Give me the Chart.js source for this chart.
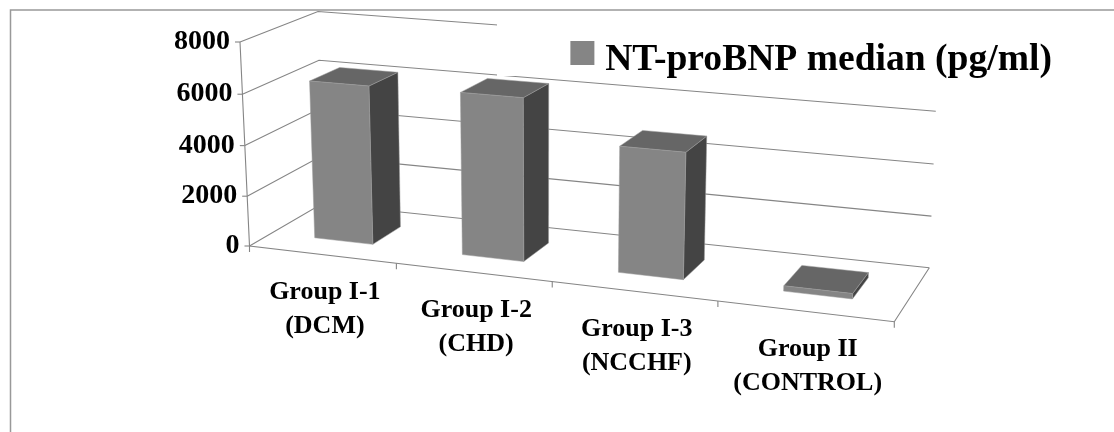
<!DOCTYPE html>
<html>
<head>
<meta charset="utf-8">
<title>NT-proBNP median</title>
<script src="https://cdn.jsdelivr.net/npm/chart.js@4"></script>
<style>
    html, body { margin: 0; padding: 0; background: #fff; }
    canvas { display: block; }
</style>
</head>
<body>
<canvas id="grafico" width="1114" height="432"></canvas>
<script>
// Datos
const categories = [
    ['Group I-1', '(DCM)'],
    ['Group I-2', '(CHD)'],
    ['Group I-3', '(NCCHF)'],
    ['Group II', '(CONTROL)']
];
const seriesName = 'NT-proBNP median (pg/ml)';
const medians = [6250, 6300, 4800, 200];
const axisMax = 8000;
const axisStep = 2000;

// Colores
const FRONT = '#858585';
const TOP = '#666666';
const SIDE = '#444444';
const GRID = '#858585';
const FONT = '"Liberation Serif", "Times New Roman", serif';

// Paso de un cuadrado unidad a un cuadrilátero (perspectiva)
const squareToQuad = ([x0, y0], [x1, y1], [x2, y2], [x3, y3]) => {
    const sx = x0 - x1 + x2 - x3, sy = y0 - y1 + y2 - y3;
    const dx1 = x1 - x2, dx2 = x3 - x2, dy1 = y1 - y2, dy2 = y3 - y2;
    const den = dx1 * dy2 - dx2 * dy1;
    const g = (sx * dy2 - dx2 * sy) / den;
    const h = (dx1 * sy - sx * dy1) / den;
    const a = x1 - x0 + g * x1, b = x3 - x0 + h * x3;
    const d = y1 - y0 + g * y1, e = y3 - y0 + h * y3;
    return (u, v) => {
        const w = g * u + h * v + 1;
        return [(a * u + b * v + x0) / w, (d * u + e * v + y0) / w];
    };
};

// Plano frontal y plano del fondo de la caja 3D
const frontPlane = squareToQuad([240, 42], [907, 93], [894.3, 321.7], [249.5, 246]);
const backPlane = squareToQuad([318, 11.5], [938, 58], [929.3, 267.7], [322, 203.7]);

// u: horizontal, v: vertical, t: profundidad (todos de 0 a 1)
const project = (u, v, t) => {
    const f = frontPlane(u, v), b = backPlane(u, v);
    return [f[0] + (b[0] - f[0]) * t, f[1] + (b[1] - f[1]) * t];
};

const BAR_FRONT = 0.31;
const BAR_BACK = 0.71;

const toU = (chart, px) => (px - chart.chartArea.left) / chart.chartArea.width;
const toV = (chart, py) => (py - chart.chartArea.top) / chart.chartArea.height;

const strokePath = (ctx, points) => {
    ctx.beginPath();
    points.forEach((p, i) => i ? ctx.lineTo(p[0], p[1]) : ctx.moveTo(p[0], p[1]));
    ctx.stroke();
};

const fillFace = (ctx, points, color) => {
    ctx.beginPath();
    points.forEach((p, i) => i ? ctx.lineTo(p[0], p[1]) : ctx.moveTo(p[0], p[1]));
    ctx.closePath();
    ctx.fillStyle = color;
    ctx.fill();
    ctx.strokeStyle = '#9a9a9a';
    ctx.lineWidth = 0.5;
    ctx.stroke();
};

const box3d = {
    id: 'box3d',
    // Marco, paredes y rejilla, debajo de la leyenda
    beforeDraw(chart) {
        const { ctx, scales: { y } } = chart;
        ctx.save();
        ctx.fillStyle = '#fff';
        ctx.fillRect(0, 0, chart.width, chart.height);

        ctx.strokeStyle = '#999999';
        ctx.lineWidth = 1.5;
        strokePath(ctx, [[10.5, chart.height], [10.5, 10], [chart.width, 10]]);

        ctx.strokeStyle = GRID;
        ctx.lineWidth = 1.1;
        y.ticks.forEach(tick => {
            const v = toV(chart, y.getPixelForValue(tick.value));
            strokePath(ctx, [project(0, v, 0), project(0, v, 1), project(1, v, 1)]);
            const p = project(0, v, 0);
            strokePath(ctx, [[p[0] - 5, p[1]], p]);
        });
        strokePath(ctx, [project(0, 0, 0), project(0, 1, 0), project(1, 1, 0), project(1, 1, 1)]);
        for (let i = 0; i <= categories.length; i++) {
            const p = project(i / categories.length, 1, 0);
            strokePath(ctx, [p, [p[0], p[1] + 6]]);
        }

        // La leyenda tapa la rejilla que queda detrás
        ctx.fillStyle = '#fff';
        ctx.fillRect(497, 11, chart.width - 497, 65);
        ctx.restore();
    },
    // Cuadro de la leyenda, barras y textos de los ejes
    beforeDatasetsDraw(chart) {
        const { ctx, scales: { x, y } } = chart;
        ctx.save();
        ctx.fillStyle = FRONT;
        ctx.fillRect(chart.legend.legendHitBoxes[0].left, 41, 24, 24);

        chart.getDatasetMeta(0).data.forEach(bar => {
            const u0 = toU(chart, bar.x - bar.width / 2);
            const u1 = toU(chart, bar.x + bar.width / 2);
            const vTop = toV(chart, bar.y);
            const vBase = toV(chart, bar.base);
            fillFace(ctx, [project(u1, vTop, BAR_FRONT), project(u1, vTop, BAR_BACK), project(u1, vBase, BAR_BACK), project(u1, vBase, BAR_FRONT)], SIDE);
            fillFace(ctx, [project(u0, vTop, BAR_FRONT), project(u0, vTop, BAR_BACK), project(u1, vTop, BAR_BACK), project(u1, vTop, BAR_FRONT)], TOP);
            fillFace(ctx, [project(u0, vTop, BAR_FRONT), project(u1, vTop, BAR_FRONT), project(u1, vBase, BAR_FRONT), project(u0, vBase, BAR_FRONT)], FRONT);
        });

        ctx.fillStyle = '#000';
        ctx.textBaseline = 'middle';

        ctx.font = 'bold 28px ' + FONT;
        ctx.textAlign = 'right';
        y.ticks.forEach(tick => {
            const p = project(0, toV(chart, y.getPixelForValue(tick.value)), 0);
            ctx.fillText(String(tick.value), p[0] - 10, p[1]);
        });

        ctx.font = 'bold 26px ' + FONT;
        ctx.textAlign = 'center';
        categories.forEach((lines, i) => {
            const p = project(toU(chart, x.getPixelForValue(i)), 1, 0);
            lines.forEach((line, n) => ctx.fillText(line, p[0] + 3, p[1] + 38 + n * 34));
        });
        ctx.restore();
        return false;
    }
};

new Chart(document.getElementById('grafico'), {
    type: 'bar',
    data: {
        labels: categories,
        datasets: [{
            label: seriesName,
            data: medians,
            backgroundColor: FRONT,
            borderWidth: 0,
            barPercentage: 0.4,
            categoryPercentage: 1
        }]
    },
    options: {
        responsive: false,
        animation: false,
        layout: { padding: { top: 31, right: 52, left: 250, bottom: 90 } },
        scales: {
            x: { ticks: { display: false }, grid: { display: false }, border: { display: false } },
            y: {
                min: 0,
                max: axisMax,
                ticks: { display: false, stepSize: axisStep },
                grid: { display: false },
                border: { display: false }
            }
        },
        plugins: {
            legend: {
                position: 'top',
                align: 'end',
                labels: {
                    boxWidth: 16,
                    boxHeight: 24,
                    color: '#000',
                    font: { family: FONT, size: 37.6, weight: 'bold' },
                    // El cuadro se pinta en el plugin, aquí solo reserva sitio
                    generateLabels: chart => Chart.defaults.plugins.legend.labels.generateLabels(chart)
                        .map(item => ({ ...item, fillStyle: 'rgba(0,0,0,0)', strokeStyle: 'rgba(0,0,0,0)' }))
                }
            },
            tooltip: { enabled: false }
        }
    },
    plugins: [box3d]
});
</script>
</body>
</html>
